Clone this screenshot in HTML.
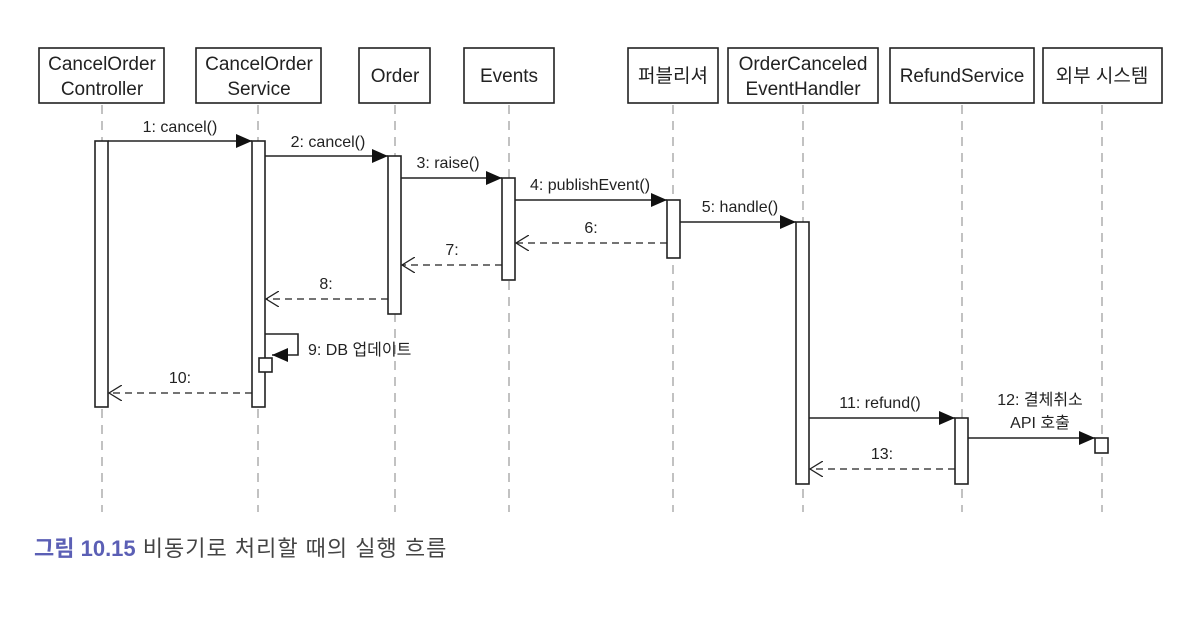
<!DOCTYPE html>
<html><head><meta charset="utf-8"><style>
body{margin:0;background:#fff;}
svg text{font-family:"Liberation Sans","Noto Sans CJK KR",sans-serif;fill:#222;}
</style></head><body>
<svg width="1200" height="624" viewBox="0 0 1200 624" xmlns="http://www.w3.org/2000/svg">
<defs>
<marker id="f" markerWidth="16" markerHeight="14" refX="16" refY="7" orient="auto" markerUnits="userSpaceOnUse"><path d="M0,0 L16,7 L0,14 Z" fill="#111"/></marker>
<marker id="o" markerWidth="14" markerHeight="16" refX="13" refY="8" orient="auto" markerUnits="userSpaceOnUse"><path d="M0,0 L13,8 L0,16" fill="none" stroke="#222" stroke-width="1.3"/></marker>
</defs>
<g stroke="#999" stroke-width="1.2" stroke-dasharray="9,7">
<line x1="102" y1="105" x2="102" y2="512"/>
<line x1="258" y1="105" x2="258" y2="512"/>
<line x1="395" y1="105" x2="395" y2="512"/>
<line x1="509" y1="105" x2="509" y2="512"/>
<line x1="673" y1="105" x2="673" y2="512"/>
<line x1="803" y1="105" x2="803" y2="512"/>
<line x1="962" y1="105" x2="962" y2="512"/>
<line x1="1102" y1="105" x2="1102" y2="512"/>
</g>
<g fill="#fff" stroke="#222" stroke-width="1.6">
<rect x="39" y="48" width="125" height="55"/>
<rect x="196" y="48" width="125" height="55"/>
<rect x="359" y="48" width="71" height="55"/>
<rect x="464" y="48" width="90" height="55"/>
<rect x="628" y="48" width="90" height="55"/>
<rect x="728" y="48" width="150" height="55"/>
<rect x="890" y="48" width="144" height="55"/>
<rect x="1043" y="48" width="119" height="55"/>
</g>
<g font-size="19" text-anchor="middle">
<text x="102" y="70">CancelOrder</text><text x="102" y="95">Controller</text>
<text x="259" y="70">CancelOrder</text><text x="259" y="95">Service</text>
<text x="395" y="82">Order</text>
<text x="509" y="82">Events</text>
<text x="673" y="82">퍼블리셔</text>
<text x="803" y="70">OrderCanceled</text><text x="803" y="95">EventHandler</text>
<text x="962" y="82">RefundService</text>
<text x="1102" y="82">외부 시스템</text>
</g>
<g fill="#fff" stroke="#222" stroke-width="1.6">
<rect x="95" y="141" width="13" height="266"/>
<rect x="252" y="141" width="13" height="266"/>
<rect x="388" y="156" width="13" height="158"/>
<rect x="502" y="178" width="13" height="102"/>
<rect x="667" y="200" width="13" height="58"/>
<rect x="796" y="222" width="13" height="262"/>
<rect x="955" y="418" width="13" height="66"/>
<rect x="1095" y="438" width="13" height="15"/>
<rect x="259" y="358" width="13" height="14"/>
</g>
<g stroke="#222" stroke-width="1.6" fill="none">
<line x1="108" y1="141" x2="252" y2="141" marker-end="url(#f)"/>
<line x1="265" y1="156" x2="388" y2="156" marker-end="url(#f)"/>
<line x1="401" y1="178" x2="502" y2="178" marker-end="url(#f)"/>
<line x1="515" y1="200" x2="667" y2="200" marker-end="url(#f)"/>
<line x1="680" y1="222" x2="796" y2="222" marker-end="url(#f)"/>
<line x1="809" y1="418" x2="955" y2="418" marker-end="url(#f)"/>
<line x1="968" y1="438" x2="1095" y2="438" marker-end="url(#f)"/>
<polyline points="265,334 298,334 298,355 272,355" marker-end="url(#f)"/>
</g>
<g stroke="#222" stroke-width="1.3" fill="none" stroke-dasharray="7,5">
<line x1="667" y1="243" x2="516" y2="243" marker-end="url(#o)"/>
<line x1="502" y1="265" x2="402" y2="265" marker-end="url(#o)"/>
<line x1="388" y1="299" x2="266" y2="299" marker-end="url(#o)"/>
<line x1="252" y1="393" x2="109" y2="393" marker-end="url(#o)"/>
<line x1="955" y1="469" x2="810" y2="469" marker-end="url(#o)"/>
</g>
<g font-size="16" text-anchor="middle">
<text x="180" y="132">1: cancel()</text>
<text x="328" y="147">2: cancel()</text>
<text x="448" y="168">3: raise()</text>
<text x="590" y="190">4: publishEvent()</text>
<text x="740" y="212">5: handle()</text>
<text x="591" y="233">6:</text>
<text x="452" y="255">7:</text>
<text x="326" y="289">8:</text>
<text x="180" y="383">10:</text>
<text x="880" y="408">11: refund()</text>
<text x="1040" y="405">12: 결체취소</text>
<text x="1040" y="428">API 호출</text>
<text x="882" y="459">13:</text>
<text x="308" y="355" text-anchor="start">9: DB 업데이트</text>
</g>
<text x="34" y="556" font-size="22"><tspan font-weight="bold" style="fill:#5b5fb5">그림 10.15</tspan><tspan style="fill:#444" letter-spacing="1"> 비동기로 처리할 때의 실행 흐름</tspan></text>
</svg>
</body></html>
